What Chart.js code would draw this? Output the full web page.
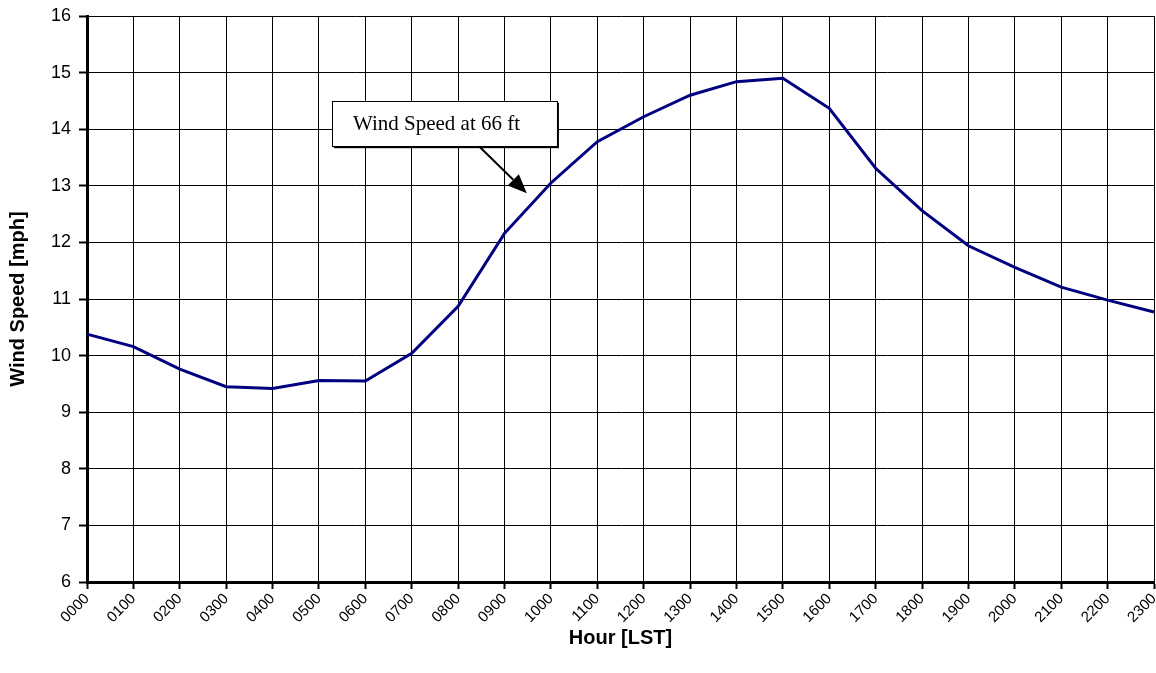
<!DOCTYPE html>
<html>
<head>
<meta charset="utf-8">
<script src="https://cdn.jsdelivr.net/npm/chart.js@4"></script>
<style>
  html, body { margin: 0; padding: 0; background: #fff; }
  #wrap { width: 1156px; height: 673px; position: relative; }
</style>
</head>
<body>
<div id="wrap"><canvas id="c"></canvas></div>
<script>
const hours = ["0000","0100","0200","0300","0400","0500","0600","0700","0800","0900","1000","1100",
               "1200","1300","1400","1500","1600","1700","1800","1900","2000","2100","2200","2300"];
const windSpeed66ft = [10.38, 10.16, 9.76, 9.45, 9.42, 9.56, 9.55, 10.04, 10.87, 12.16, 13.05, 13.78,
                       14.22, 14.60, 14.84, 14.90, 14.37, 13.31, 12.56, 11.94, 11.56, 11.21, 10.98, 10.77];
const yTicks = [6, 7, 8, 9, 10, 11, 12, 13, 14, 15, 16];
const seriesLabel = "Wind Speed at 66 ft";
const xTitle = "Hour [LST]";
const yTitle = "Wind Speed [mph]";

// callout placed in data coordinates (category index, mph)
const callout = { x0: 5.28, x1: 10.13, y0: 14.50, y1: 13.70, ax0: 8.45, ay0: 13.70, ax1: 9.48, ay1: 12.87 };

const calloutPlugin = {
  id: 'callout',
  afterDatasetsDraw(chart) {
    const {ctx, scales: {x, y}} = chart;
    const L = x.getPixelForValue(callout.x0), R = x.getPixelForValue(callout.x1);
    const T = y.getPixelForValue(callout.y0), B = y.getPixelForValue(callout.y1);
    ctx.save();
    // arrow
    const sx = x.getPixelForValue(callout.ax0), sy = y.getPixelForValue(callout.ay0);
    const ex = x.getPixelForValue(callout.ax1), ey = y.getPixelForValue(callout.ay1);
    const ang = Math.atan2(ey - sy, ex - sx);
    const hl = 19, hw = 8;
    const bx = ex - hl * Math.cos(ang), by = ey - hl * Math.sin(ang);
    ctx.strokeStyle = '#000'; ctx.lineWidth = 2;
    ctx.beginPath(); ctx.moveTo(sx, sy); ctx.lineTo(bx, by); ctx.stroke();
    ctx.fillStyle = '#000';
    ctx.beginPath();
    ctx.moveTo(ex, ey);
    ctx.lineTo(bx + hw * Math.sin(ang), by - hw * Math.cos(ang));
    ctx.lineTo(bx - hw * Math.sin(ang), by + hw * Math.cos(ang));
    ctx.closePath(); ctx.fill();
    // shadow + box
    ctx.fillStyle = '#000';
    ctx.fillRect(L + 2, T + 2, R - L, B - T);
    ctx.fillStyle = '#fff';
    ctx.fillRect(L, T, R - L, B - T);
    ctx.strokeStyle = '#000'; ctx.lineWidth = 1;
    ctx.strokeRect(Math.round(L) + 0.5, Math.round(T) + 0.5, Math.round(R - L), Math.round(B - T));
    ctx.fillStyle = '#000';
    ctx.font = '21px "Liberation Serif", "Times New Roman", serif';
    ctx.textAlign = 'left'; ctx.textBaseline = 'middle';
    ctx.fillText(seriesLabel, L + 21, (T + B) / 2 + 1);
    ctx.restore();
  }
};

Chart.defaults.font.family = '"Liberation Sans", Arial, sans-serif';
Chart.defaults.color = '#000';

new Chart(document.getElementById('c'), {
  type: 'line',
  data: {
    labels: hours,
    datasets: [{
      label: seriesLabel,
      data: windSpeed66ft,
      borderColor: '#000080',
      backgroundColor: '#000080',
      borderWidth: 3,
      pointRadius: 0,
      tension: 0,
      fill: false
    }]
  },
  options: {
    responsive: true,
    maintainAspectRatio: false,
    animation: false,
    devicePixelRatio: 1,
    layout: { padding: { top: 16, right: 2, left: 0, bottom: 0 } },
    plugins: { legend: { display: false }, tooltip: { enabled: false } },
    scales: {
      x: {
        type: 'category',
        offset: false,
        grid: { color: '#000', lineWidth: 1, tickLength: 7, tickWidth: 2, tickColor: '#000' },
        border: { color: '#000', width: 3 },
        ticks: {
          autoSkip: false, maxRotation: 45, minRotation: 45, padding: 1,
          font: { size: 15 }, color: '#000'
        },
        title: { display: true, text: xTitle, font: { size: 20, weight: 'bold' }, padding: { top: 0, bottom: 23 } },
        afterFit(s) { s.height = 91; s.paddingRight = 0; s.paddingLeft = 0; }
      },
      y: {
        min: 6, max: 16,
        afterBuildTicks(s) { s.ticks = yTicks.map(v => ({ value: v })); },
        grid: { color: '#000', lineWidth: 1, tickLength: 8, tickWidth: 2, tickColor: '#000' },
        border: { color: '#000', width: 3 },
        ticks: { font: { size: 18 }, padding: 8, color: '#000' },
        title: { display: true, text: yTitle, font: { size: 20, weight: 'bold' }, padding: { top: 6, bottom: 0 } },
        afterFit(s) { s.width = 87; s.paddingTop = 0; s.paddingBottom = 0; }
      }
    }
  },
  plugins: [calloutPlugin]
});
</script>
</body>
</html>
